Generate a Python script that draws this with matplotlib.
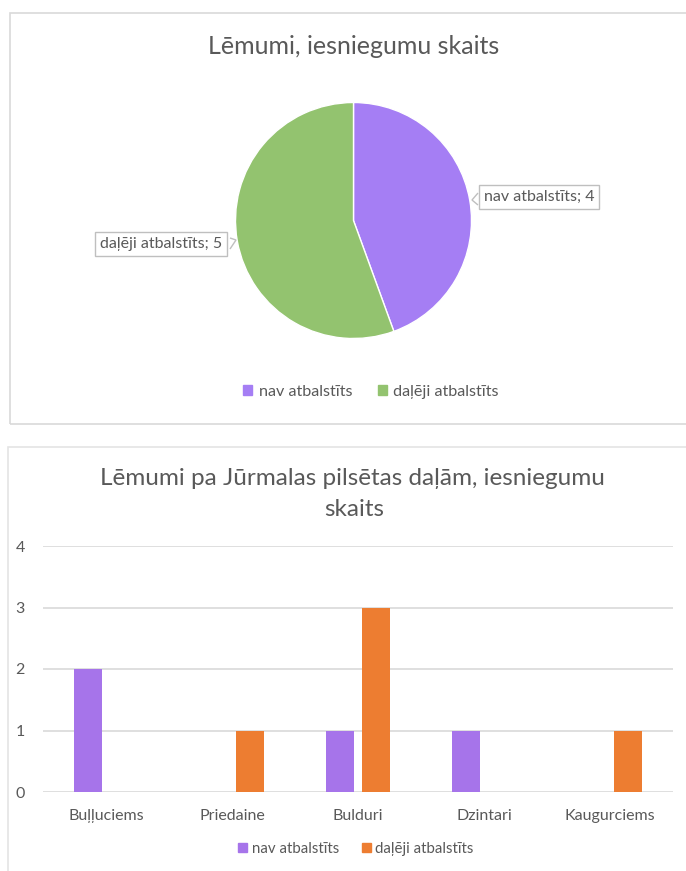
import matplotlib
matplotlib.use("Agg")
import matplotlib.pyplot as plt
import numpy as np
from matplotlib.patches import Rectangle, Polygon

plt.rcParams['font.family'] = ['Lato', 'DejaVu Sans']

# pie data
pie_labels = ["nav atbalstīts", "daļēji atbalstīts"]
pie_values = [4, 5]
pie_colors = ["#A57EF4", "#93C36F"]

# bar data
districts = ["Buļļuciems", "Priedaine", "Bulduri", "Dzintari", "Kaugurciems"]
nav_atbalstits = [2, 0, 1, 1, 0]
daleji_atbalstits = [0, 1, 3, 0, 1]
bar_colors = ["#A674EA", "#ED7D31"]
y_ticks = [0, 1, 2, 3, 4]

W, H = 686, 871
txt = "#595959"
grid = "#D9D9D9"


def fx(x):
    return x / W


def fy(y):
    return 1 - y / H


fig = plt.figure(figsize=(W / 100, H / 100), dpi=100)
fig.patch.set_facecolor("white")

# chart frames
fig.patches.append(Rectangle((fx(10), fy(424)), fx(700) - fx(10), fy(13) - fy(424),
                             transform=fig.transFigure, fill=False, edgecolor=grid, lw=1.2))
fig.patches.append(Rectangle((fx(8), fy(900)), fx(700) - fx(8), fy(447) - fy(900),
                             transform=fig.transFigure, fill=False, edgecolor="#E4E4E4", lw=1.2))

# ---- pie ----
fig.text(fx(354), fy(46), "Lēmumi, iesniegumu skaits", ha="center", va="center",
         fontsize=18, color=txt)

R = 118
cx, cy = 353.5, 220.5
ax1 = fig.add_axes([fx(cx - R), fy(cy + R), (2 * R) / W, (2 * R) / H])
ax1.pie(pie_values, colors=pie_colors, startangle=90, counterclock=False,
        wedgeprops=dict(edgecolor="white", linewidth=1))
ax1.set_xlim(-1, 1)
ax1.set_ylim(-1, 1)
ax1.axis("off")


def callout(x, y, s):
    fig.text(fx(x), fy(y), s, ha="center", va="center", fontsize=11.5, color=txt,
             bbox=dict(boxstyle="square,pad=0.3", fc="white", ec="#BFBFBF", lw=1))


callout(539, 197, f"{pie_labels[0]}; {pie_values[0]}")
callout(161, 244, f"{pie_labels[1]}; {pie_values[1]}")

# small pointers on callouts
for pts in ([(478, 193), (472, 200), (478, 205)], [(230, 238), (236, 240), (230, 249)]):
    fig.patches.append(Polygon([(fx(a), fy(b)) for a, b in pts], closed=False,
                               transform=fig.transFigure, fc="white", ec="#BFBFBF", lw=1))

h_pie = [Rectangle((0, 0), 1, 1, color=c) for c in pie_colors]
fig.legend(h_pie, pie_labels, loc="center", bbox_to_anchor=(fx(371), fy(392)), ncol=2,
           frameon=False, fontsize=11.6, labelcolor=txt, handlelength=0.55, handleheight=0.55,
           handletextpad=0.4, columnspacing=1.6)

# ---- bars ----
fig.text(fx(352), fy(478), "Lēmumi pa Jūrmalas pilsētas daļām, iesniegumu", ha="center",
         va="center", fontsize=17.5, color=txt)
fig.text(fx(354), fy(510), "skaits", ha="center", va="center", fontsize=17.5, color=txt)

ax2 = fig.add_axes([fx(43), fy(792), (673 - 43) / W, (792 - 546) / H])
x = np.arange(len(districts))
bw = 0.222
off = 0.143
ax2.bar(x - off, nav_atbalstits, bw, color=bar_colors[0], label="nav atbalstīts", zorder=3)
ax2.bar(x + off, daleji_atbalstits, bw, color=bar_colors[1], label="daļēji atbalstīts", zorder=3)
ax2.set_xlim(-0.5, len(districts) - 0.5)
ax2.set_ylim(0, 4)
ax2.set_yticks(y_ticks)
ax2.set_xticks(x)
ax2.set_xticklabels(districts)
ax2.grid(axis="y", color=grid, lw=1.2, zorder=0)
for s in ax2.spines.values():
    s.set_visible(False)
ax2.tick_params(axis="both", length=0, colors=txt, labelsize=11.5)
ax2.tick_params(axis="y", pad=13)
ax2.tick_params(axis="x", pad=12)

h_bar = [Rectangle((0, 0), 1, 1, color=c) for c in bar_colors]
fig.legend(h_bar, ["nav atbalstīts", "daļēji atbalstīts"], loc="center",
           bbox_to_anchor=(fx(356), fy(849)), ncol=2, frameon=False, fontsize=10.8,
           labelcolor=txt, handlelength=0.6, handleheight=0.6, handletextpad=0.3,
           columnspacing=1.5)

fig.savefig("out.png", dpi=100)
